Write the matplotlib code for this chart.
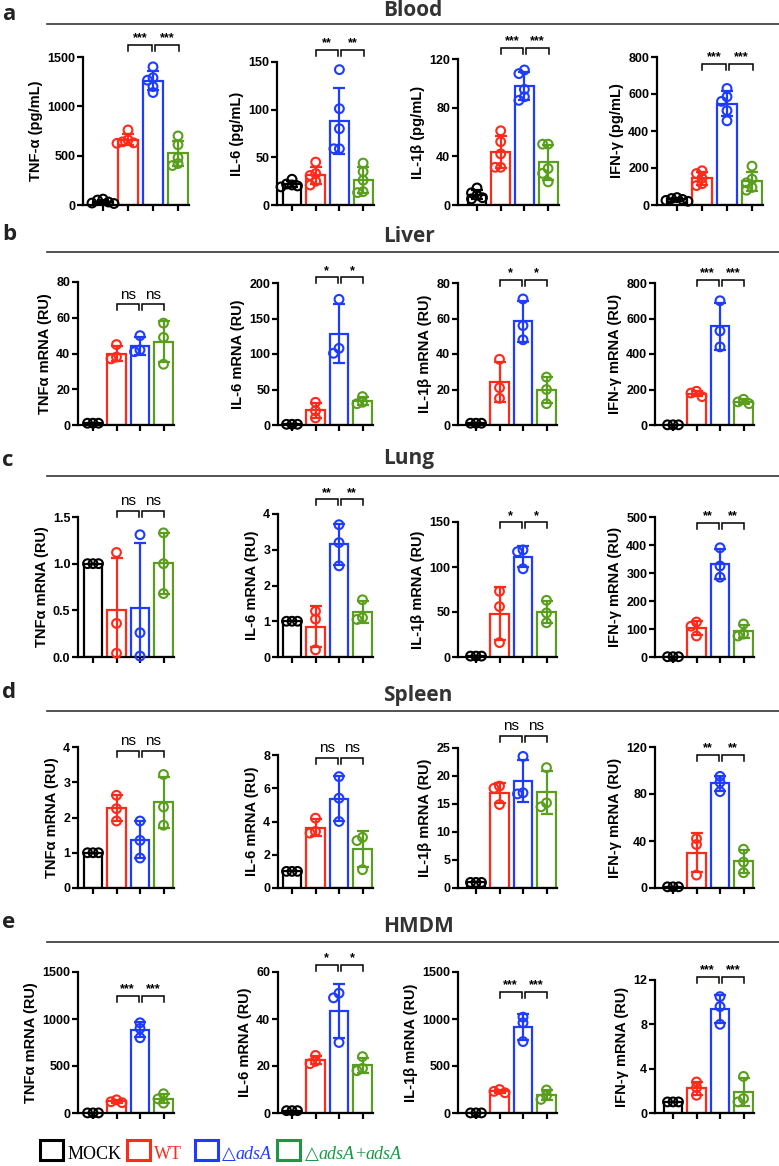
import numpy as np
import matplotlib
matplotlib.use("Agg")
import matplotlib.pyplot as plt
from matplotlib.patches import Rectangle
from matplotlib.lines import Line2D
from matplotlib.transforms import offset_copy

plt.rcParams['font.family'] = ['Liberation Sans', 'DejaVu Sans']

W, H = 779, 1166

groups = ["MOCK", "WT", "ΔadsA", "ΔadsA+adsA"]
colors = ["#000000", "#FF2A1A", "#1E3CFF", "#5A9E1E"]
legend_colors = ["#000000", "#FF2A1A", "#1E3CFF", "#1E9646"]

tissues = ["Blood", "Liver", "Lung", "Spleen", "HMDM"]
letters = ["a", "b", "c", "d", "e"]
ylabels_blood = ["TNF-α (pg/mL)", "IL-6 (pg/mL)", "IL-1β (pg/mL)", "IFN-γ (pg/mL)"]
ylabels_mrna = ["TNFα mRNA (RU)", "IL-6 mRNA (RU)", "IL-1β mRNA (RU)", "IFN-γ mRNA (RU)"]

# Blood (pg/mL), n = 5 per group: MOCK, WT, dadsA, dadsA+adsA
blood_tnfa = [[50, 20, 30, 60, 15], [760, 660, 630, 625, 640], [1400, 1290, 1265, 1200, 1140], [700, 610, 480, 420, 400]]
blood_il6 = [[27, 22, 20, 19, 21], [45, 33, 31, 25, 21], [142, 101, 80, 59, 59], [44, 35, 26, 14, 13]]
blood_il1b = [[14, 10, 8, 6, 5], [61, 52, 42, 31, 31], [111, 108, 95, 89, 86], [50, 50, 30, 26, 19]]
blood_ifng = [[40, 30, 25, 20, 35], [185, 170, 145, 115, 105], [630, 585, 560, 510, 455], [210, 140, 120, 95, 80]]

# Liver mRNA (RU), n = 3
liver_tnfa = [[1, 1, 1], [45, 38, 37], [50, 42, 41], [57, 49, 34]]
liver_il6 = [[1, 1, 1], [32, 20, 10], [177, 108, 101], [40, 32, 30]]
liver_il1b = [[1, 1, 1], [37, 21, 15], [71, 56, 48], [27, 20, 12]]
liver_ifng = [[1, 1, 1], [190, 180, 160], [700, 530, 440], [145, 130, 120]]

# Lung mRNA (RU)
lung_tnfa = [[1, 1, 1], [1.12, 0.36, 0.04], [1.31, 0.26, 0.01], [1.33, 1.0, 0.68]]
lung_il6 = [[1, 1, 1], [1.28, 1.06, 0.2], [3.7, 3.2, 2.55], [1.6, 1.1, 1.05]]
lung_il1b = [[1, 1, 1], [73, 56, 16], [119, 117, 98], [63, 49, 38]]
lung_ifng = [[1, 1, 1], [125, 110, 75], [390, 325, 285], [118, 82, 75]]

# Spleen mRNA (RU)
spleen_tnfa = [[1, 1, 1], [2.63, 2.25, 1.9], [1.9, 1.35, 0.85], [3.22, 2.3, 1.78]]
spleen_il6 = [[1, 1, 1], [4.2, 3.4, 3.3], [6.7, 5.4, 4.0], [3.05, 2.85, 1.1]]
spleen_il1b = [[1, 1, 1], [18.2, 17.8, 14.9], [23.5, 17.0, 16.8], [21.5, 15.2, 14.5]]
spleen_ifng = [[1, 1, 1], [42, 37, 11], [95, 90, 82], [33, 22, 13]]

# HMDM mRNA (RU)
hmdm_tnfa = [[1, 1, 1], [140, 120, 110], [960, 900, 800], [205, 150, 105]]
hmdm_il6 = [[1, 1, 1], [24.5, 22, 21], [51, 49, 30], [24, 19, 18]]
hmdm_il1b = [[1, 1, 1], [250, 230, 215], [1020, 960, 760], [245, 185, 145]]
hmdm_ifng = [[1, 1, 1], [2.8, 2.3, 1.6], [10.5, 9.6, 8.0], [3.3, 1.3, 1.0]]

row_data = [
    [blood_tnfa, blood_il6, blood_il1b, blood_ifng],
    [liver_tnfa, liver_il6, liver_il1b, liver_ifng],
    [lung_tnfa, lung_il6, lung_il1b, lung_ifng],
    [spleen_tnfa, spleen_il6, spleen_il1b, spleen_ifng],
    [hmdm_tnfa, hmdm_il6, hmdm_il1b, hmdm_ifng],
]

sig_labels = [
    ["***", "**", "***", "***"],
    ["ns", "*", "*", "***"],
    ["ns", "**", "*", "**"],
    ["ns", "ns", "ns", "**"],
    ["***", "*", "***", "***"],
]

y_max = [[1500, 150, 120, 800], [80, 200, 80, 800], [1.5, 4, 150, 500], [4, 8, 25, 120], [1500, 60, 1500, 12]]
y_step = [[500, 50, 40, 200], [20, 50, 20, 200], [0.5, 1, 50, 100], [1, 2, 5, 40], [500, 20, 500, 4]]

# ---------------- layout (pixels) ----------------
row_bottom_px = [205, 425, 657, 888, 1113]
row_top_px = [[57, 62, 59, 57], [282, 283, 283, 283], [517, 514, 522, 517], [747, 755, 748, 747], [972, 972, 972, 980]]
bracket_y = [[1622, 163, 129.3, 762], [67.6, 208, 81.7, 817], [1.567, 4.41, 149.6, 480],
             [3.89, 7.84, 27.2, 113.5], [1248, 63, 1290, 12.3]]
spine_x_a = [83, 277, 458, 657]
offset_a = [20, 15, 19, 20]
spacing_a = [25, 23.7, 23.7, 25]
spine_x = [78, 278, 458, 655]
offset_x = [15, 14, 18, 18]
spacing_x = [23.5, 23.5, 23.5, 23.5]
title_y = [10, 236, 459, 695, 927]
letter_y = [15, 234, 460, 693, 923]
line_y = [24, 252, 476, 711, 942]

fig = plt.figure(figsize=(W / 100, H / 100), dpi=100)


def swarm(vals, ppu_y, ppu_x, d=5.5, step=5.5):
    placed, offs = [], []
    for v in vals:
        y = v * ppu_y
        x = 0.0
        for k in [0, -1, 1, -2, 2, -3, 3]:
            x = k * step
            if all((x - px) ** 2 + (y - py) ** 2 >= d ** 2 - 1e-9 for px, py in placed):
                break
        placed.append((x, y))
        offs.append(x / ppu_x)
    return np.array(offs)


for r in range(5):
    ylabels = ylabels_blood if r == 0 else ylabels_mrna
    for c in range(4):
        if r == 0:
            sx, off, sp = spine_x_a[c], offset_a[c], spacing_a[c]
        else:
            sx, off, sp = spine_x[c], offset_x[c], spacing_x[c]
        top = row_top_px[r][c]
        bot = row_bottom_px[r]
        ax = fig.add_axes([sx / W, 1 - bot / H, (off + 3.45 * sp) / W, (bot - top) / H])
        ymax = y_max[r][c]
        ax.set_ylim(0, ymax)
        ax.set_xlim(-off / sp, 3.45)
        ppu_y = (bot - top) / ymax
        data = row_data[r][c]
        for i, vals in enumerate(data):
            vals = np.asarray(vals, float)
            m = vals.mean()
            sd = vals.std(ddof=1)
            ax.bar(i, m, width=0.8, facecolor='none', edgecolor=colors[i], linewidth=1.6, zorder=2)
            if sd > 0:
                ax.errorbar(i, m, yerr=sd, fmt='none', ecolor=colors[i], elinewidth=1.6,
                            capsize=4.5, capthick=1.6, zorder=3)
            order = np.argsort(-vals)
            offs = swarm(vals[order], ppu_y, sp)
            ax.scatter(i + offs, vals[order], s=40, facecolors='none', edgecolors=colors[i],
                       linewidths=1.5, zorder=4, clip_on=False)
        for s in ['top', 'right']:
            ax.spines[s].set_visible(False)
        for s in ['left', 'bottom']:
            ax.spines[s].set_linewidth(1.6)
        ax.set_xticks(range(4))
        ax.set_xticklabels([])
        ticks = np.arange(0, ymax + y_step[r][c] / 2, y_step[r][c])
        ax.set_yticks(ticks)
        if r == 2 and c == 0:
            ax.set_yticklabels([f"{t:.1f}" for t in ticks])
        else:
            ax.set_yticklabels([f"{t:g}" for t in ticks])
        ax.tick_params(axis='both', direction='out', length=4, width=1.6, labelsize=9, pad=1.5)
        for lab in ax.get_yticklabels():
            lab.set_fontweight('bold')
        ax.set_ylabel(ylabels[c], fontsize=10.5, fontweight='bold', labelpad=3)

        # significance brackets
        by = bracket_y[r][c]
        h = 6 / ppu_y
        txt_tr = offset_copy(ax.transData, fig=fig, y=2.5, units='dots')
        for (x1, x2) in [(1.0, 1.95), (2.08, 3.03)]:
            ax.plot([x1, x1, x2, x2], [by - h, by, by, by - h], color='black', lw=1.1,
                    clip_on=False, zorder=5, solid_joinstyle='miter')
            lab = sig_labels[r][c]
            if lab == 'ns':
                ax.text((x1 + x2) / 2, by, lab, transform=txt_tr, ha='center', va='bottom',
                        fontsize=11, clip_on=False)
            else:
                ax.text((x1 + x2) / 2, by - 2 / ppu_y, lab, transform=txt_tr, ha='center', va='bottom',
                        fontsize=9, fontweight='bold', clip_on=False)

    # row title, letter, separator line
    fig.text(383 / W, 1 - title_y[r] / H, tissues[r], ha='left', va='center', fontsize=15,
             fontweight='bold', color='#333333', family=['Open Sans', 'DejaVu Sans'])
    fig.text(2 / W, 1 - letter_y[r] / H, letters[r], ha='left', va='center', fontsize=16,
             fontweight='bold', color='#222222', family=['Open Sans', 'DejaVu Sans'])
    fig.add_artist(Line2D([47 / W, 1.0], [1 - line_y[r] / H] * 2, lw=1.2, color='#333333'))

# ---------------- legend ----------------
renderer = fig.canvas.get_renderer()
box_x = [40, 127, 195, 277]
box_w, box_h = 23, 20
box_top = 1140
text_x = [68, 154, 222, 305]
base_y = 1159
legend_pieces = [
    [("MOCK", "normal")],
    [("WT", "normal")],
    [("△", "normal"), ("adsA", "italic")],
    [("△", "normal"), ("adsA", "italic"), ("+", "normal"), ("adsA", "italic")],
]
for k in range(4):
    fig.add_artist(Rectangle((box_x[k] / W, 1 - (box_top + box_h) / H), box_w / W, box_h / H,
                             transform=fig.transFigure, facecolor='none',
                             edgecolor=legend_colors[k], linewidth=2.2))
    x = text_x[k]
    for s, st in legend_pieces[k]:
        t = fig.text(x / W, 1 - base_y / H, s, fontsize=13, color=legend_colors[k], style=st,
                     family=['Liberation Serif', 'DejaVu Serif'], ha='left', va='baseline')
        x += t.get_window_extent(renderer).width

fig.savefig("out.png", dpi=100)
